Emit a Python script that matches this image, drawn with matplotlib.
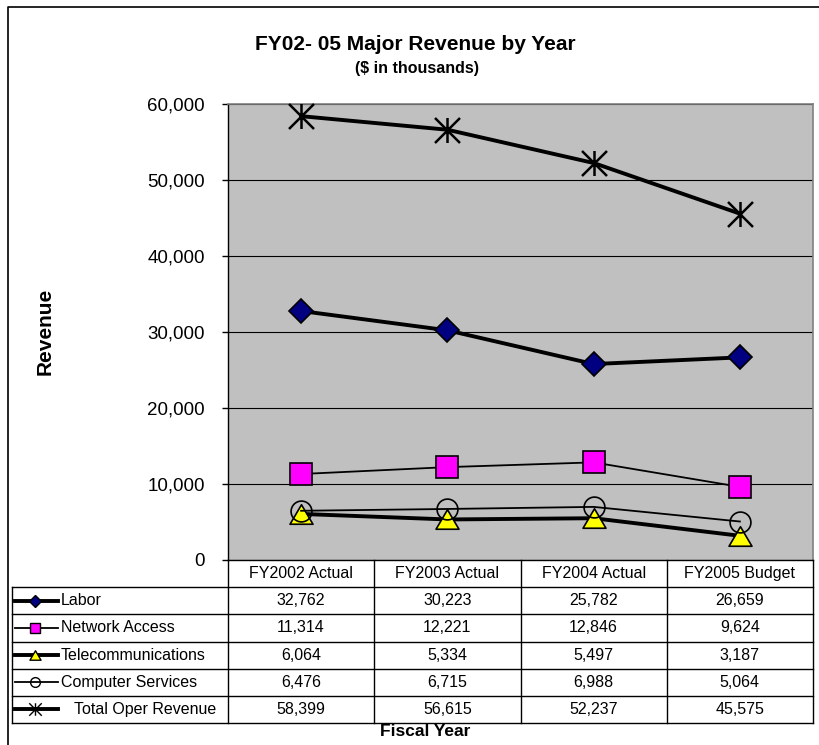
import matplotlib
matplotlib.use("Agg")
import matplotlib.pyplot as plt
from matplotlib.path import Path
from matplotlib.lines import Line2D
import numpy as np

plt.rcParams['font.family'] = ['Liberation Sans', 'DejaVu Sans']

# ---- data ----
categories = ["FY2002 Actual", "FY2003 Actual", "FY2004 Actual", "FY2005 Budget"]
series_names = ["Labor", "Network Access", "Telecommunications", "Computer Services", "Total Oper Revenue"]
labor = [32762, 30223, 25782, 26659]
network = [11314, 12221, 12846, 9624]
telecom = [6064, 5334, 5497, 3187]
computer = [6476, 6715, 6988, 5064]
total = [58399, 56615, 52237, 45575]
yticks = [0, 10000, 20000, 30000, 40000, 50000, 60000]

title = "FY02- 05 Major Revenue by Year"
subtitle = "($ in thousands)"

# ---- styles ----
W, H = 820, 745
star = Path([(-1, -1), (1, 1), (-1, 1), (1, -1), (0, -1), (0, 1)],
            [Path.MOVETO, Path.LINETO, Path.MOVETO, Path.LINETO, Path.MOVETO, Path.LINETO])
tri = Path([(0, 0.85), (-1, -0.85), (1, -0.85), (0, 0.85)],
           [Path.MOVETO, Path.LINETO, Path.LINETO, Path.CLOSEPOLY])
styles = [
    dict(lw=2.8, marker='D', ms=12.5, mfc='#000080', mec='black', mew=1.2, lms=6),
    dict(lw=1.3, marker='s', ms=16.5, mfc='#FF00FF', mec='black', mew=1.2, lms=7.5),
    dict(lw=2.8, marker=tri, ms=16.5, mfc='#FFFF00', mec='black', mew=1.2, lms=8),
    dict(lw=1.3, marker='o', ms=15, mfc='none', mec='black', mew=1.2, lms=7),
    dict(lw=2.8, marker=star, ms=18, mfc='none', mec='black', mew=1.8, lms=9),
]
data = [labor, network, telecom, computer, total]

fig = plt.figure(figsize=(W / 100, H / 100), dpi=100)
fig.patch.set_facecolor('white')

def fx(px):
    return px / W

def fy(py):
    return 1 - py / H

ax_l, ax_r, ax_t, ax_b = 228, 813, 104, 560
ax = fig.add_axes([fx(ax_l), fy(ax_b), fx(ax_r - ax_l), (ax_b - ax_t) / H])
ax.set_facecolor('#C0C0C0')
x = np.arange(len(categories))
for vals, st in zip(data, styles):
    ax.plot(x, vals, color='black', lw=st['lw'], marker=st['marker'], ms=st['ms'],
            mfc=st['mfc'], mec=st['mec'], mew=st['mew'], zorder=3, clip_on=False,
            solid_joinstyle='round')
ax.set_xlim(-0.5, len(categories) - 0.5)
ax.set_ylim(yticks[0], yticks[-1])
ax.set_yticks(yticks)
ax.set_yticklabels([f"{v:,}" for v in yticks], fontsize=13.5)
ax.set_xticks([])
ax.tick_params(axis='y', direction='out', length=4.5, width=1, pad=12, colors='black')
ax.set_axisbelow(True)
ax.yaxis.grid(True, color='black', lw=0.8)
for s in ['top', 'right']:
    ax.spines[s].set_color('#808080')
    ax.spines[s].set_linewidth(1.2)
ax.spines['left'].set_color('black')
ax.spines['bottom'].set_color('black')
ax.spines['left'].set_linewidth(1)
ax.spines['bottom'].set_linewidth(1)

# ---- data table ----
unit = (ax_r - ax_l) / len(categories)
tab_l, tab_b = 12, 723
def tx(px):
    return -0.5 + (px - ax_l) / unit

nrows = len(series_names) + 1
tab = fig.add_axes([fx(tab_l), fy(tab_b), fx(ax_r - tab_l), (tab_b - ax_b) / H])
tab.set_xlim(tx(tab_l), len(categories) - 0.5)
tab.set_ylim(nrows, 0)
tab.axis('off')
lk = dict(color='black', lw=1, clip_on=False)
for i in range(len(categories) + 1):
    tab.plot([i - 0.5, i - 0.5], [0, nrows], **lk)
tab.plot([tx(tab_l), tx(tab_l)], [1, nrows], **lk)
for r in range(1, nrows + 1):
    tab.plot([tx(tab_l), len(categories) - 0.5], [r, r], **lk)
for i, c in enumerate(categories):
    tab.text(i, 0.5, c, ha='center', va='center', fontsize=11.5)
for r, (name, vals, st) in enumerate(zip(series_names, data, styles), start=1):
    yc = r + 0.5
    tab.plot([tx(15), tx(58)], [yc, yc], color='black', lw=st['lw'], clip_on=False)
    tab.plot([tx(35)], [yc], marker=st['marker'], ms=st['lms'], mfc=st['mfc'],
             mec='black', mew=1.0, clip_on=False, ls='none')
    tx0 = tx(74) if r == len(series_names) else tx(61)
    tab.text(tx0, yc, name, ha='left', va='center', fontsize=11.5)
    for i, v in enumerate(vals):
        tab.text(i, yc, f"{v:,}", ha='center', va='center', fontsize=11.5)

# ---- titles and labels ----
fig.text(fx(415), fy(45), title, ha='center', va='center', fontsize=15, fontweight='bold')
fig.text(fx(417), fy(68), subtitle, ha='center', va='center', fontsize=11.5, fontweight='bold')
fig.text(fx(45), fy(331), "Revenue", ha='center', va='center', rotation=90,
         fontsize=15, fontweight='bold')
fig.text(fx(425), fy(732), "Fiscal Year", ha='center', va='center', fontsize=12.5,
         fontweight='bold')

# ---- chart area border (left and top only) ----
fig.add_artist(Line2D([fx(8), fx(8), 1], [0, fy(7), fy(7)], color='black', lw=1.2))

fig.savefig("out.png", dpi=100)
